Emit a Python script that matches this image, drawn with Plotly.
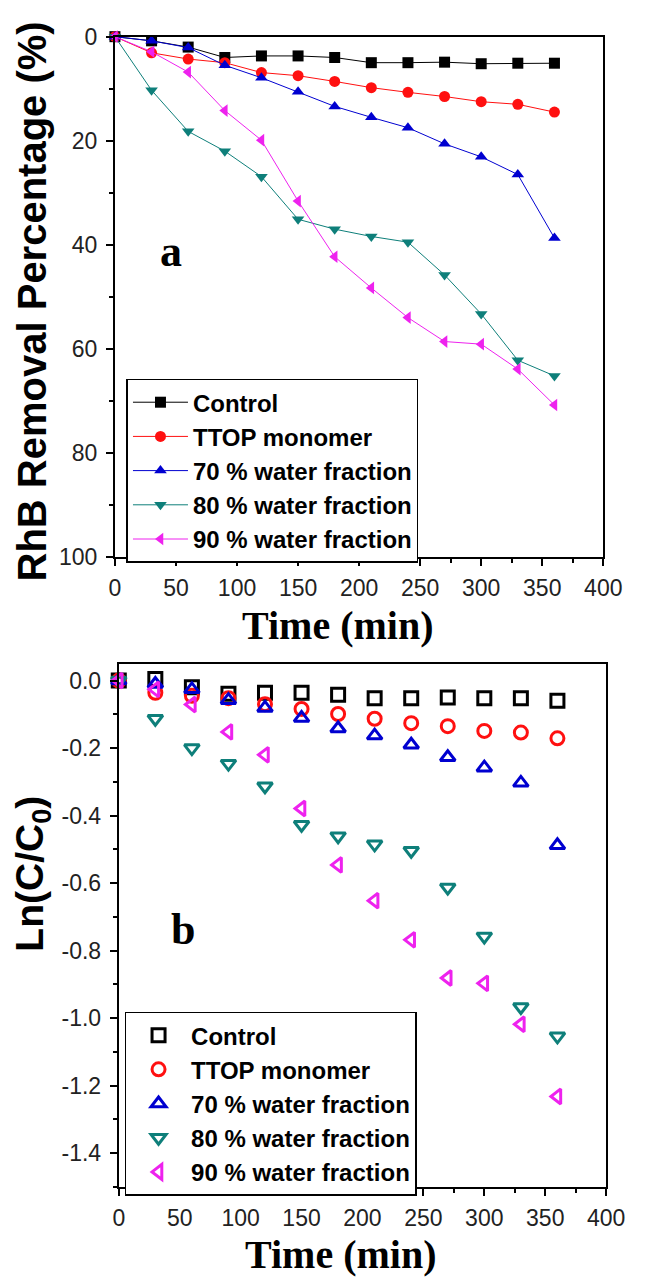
import plotly.graph_objects as go

time_min = [0, 30, 60, 90, 120, 150, 180, 210, 240, 270, 300, 330, 360]
series_names = ["Control", "TTOP monomer", "70 % water fraction",
                "80 % water fraction", "90 % water fraction"]
colors = ["#000000", "#ff1010", "#0000d0", "#0e7f7a", "#ee22ee"]

# Panel a: RhB removal percentage (%)
removal_control = [0, 0.8, 2.0, 4.0, 3.7, 3.7, 4.0, 5.0, 5.0, 4.9, 5.2, 5.1, 5.1]
removal_ttop = [0, 3.1, 4.3, 5.0, 6.9, 7.5, 8.6, 9.8, 10.7, 11.5, 12.5, 13.0, 14.5]
removal_70 = [0, 0.8, 2.1, 5.5, 7.9, 10.6, 13.4, 15.5, 17.5, 20.6, 23.1, 26.5, 38.7]
removal_80 = [0, 10.3, 18.2, 22.0, 26.9, 35.1, 37.0, 38.4, 39.5, 45.8, 53.3, 62.2, 65.2]
removal_90 = [0, 2.9, 6.8, 14.2, 19.9, 31.6, 42.3, 48.3, 54.0, 58.6, 59.1, 63.9, 70.8]

# Panel b: Ln(C/C0)
ln_control = [0, 0.005, -0.02, -0.039, -0.036, -0.036, -0.042, -0.052, -0.052, -0.050, -0.052, -0.052, -0.060]
ln_ttop = [0, -0.036, -0.045, -0.052, -0.070, -0.084, -0.099, -0.113, -0.126, -0.135, -0.149, -0.154, -0.171]
ln_70 = [0, -0.010, -0.026, -0.058, -0.081, -0.111, -0.142, -0.163, -0.190, -0.227, -0.258, -0.303, -0.488]
ln_80 = [0, -0.113, -0.200, -0.246, -0.313, -0.427, -0.461, -0.485, -0.504, -0.613, -0.758, -0.967, -1.054]
ln_90 = [0, -0.026, -0.071, -0.152, -0.220, -0.379, -0.546, -0.652, -0.768, -0.881, -0.897, -1.018, -1.232]

x_ticks = [0, 50, 100, 150, 200, 250, 300, 350, 400]
ya_ticks = [0, 20, 40, 60, 80, 100]
yb_ticks = [0.0, -0.2, -0.4, -0.6, -0.8, -1.0, -1.2, -1.4]

removal = [removal_control, removal_ttop, removal_70, removal_80, removal_90]
lnvals = [ln_control, ln_ttop, ln_70, ln_80, ln_90]
sym_a = ["square", "circle", "triangle-up", "triangle-down", "triangle-left"]
sym_b = ["square-open", "circle-open", "triangle-up-open", "triangle-down-open", "triangle-left-open"]

W, H = 646, 1284
OFF = 8  # default body margin of the page written by write_html
SANS = "Liberation Sans, Arial, sans-serif"
SERIF = "Liberation Serif, Times New Roman, serif"

fig = go.Figure()
for i, name in enumerate(series_names):
    fig.add_trace(go.Scatter(
        x=time_min, y=removal[i], name=name, mode="lines+markers",
        line=dict(color=colors[i], width=1),
        marker=dict(symbol=sym_a[i], size=11, color=colors[i]),
        xaxis="x", yaxis="y", legend="legend", cliponaxis=False))
for i, name in enumerate(series_names):
    fig.add_trace(go.Scatter(
        x=time_min, y=lnvals[i], name=name, mode="markers",
        marker=dict(symbol=sym_b[i], size=13, color=colors[i],
                    line=dict(color=colors[i], width=3)),
        xaxis="x2", yaxis="y2", legend="legend2", cliponaxis=False))


def px_x(p):
    return (p - OFF) / W


def px_y(p):
    return 1 - (p - OFF) / H


axis_common = dict(showline=True, linecolor="black", linewidth=2, mirror=True,
                   ticks="outside", ticklen=7, tickwidth=2, tickcolor="black",
                   showgrid=False, zeroline=False,
                   tickfont=dict(family=SANS, size=23, color="#222"))

fig.update_layout(
    width=W, height=H, margin=dict(l=0, r=0, t=0, b=0),
    paper_bgcolor="white", plot_bgcolor="white",
    xaxis=dict(domain=[px_x(113), px_x(621)], range=[0, 400], anchor="y",
               tickvals=x_ticks, ticklabelstandoff=2,
               minor=dict(ticks="outside", ticklen=4, tickwidth=2, dtick=25, tick0=0,
                          tickcolor="black"),
               **axis_common),
    yaxis=dict(domain=[px_y(555), px_y(24)], range=[100, 0], anchor="x",
               tickvals=ya_ticks, ticklabelstandoff=4,
               minor=dict(ticks="outside", ticklen=4, tickwidth=2, dtick=10, tick0=0,
                          tickcolor="black"),
               **axis_common),
    xaxis2=dict(domain=[px_x(117), px_x(624)], range=[0, 400], anchor="y2",
                tickvals=x_ticks, ticklabelstandoff=2,
                minor=dict(ticks="outside", ticklen=4, tickwidth=2, dtick=25, tick0=0,
                           tickcolor="black"),
                **axis_common),
    yaxis2=dict(domain=[px_y(1198), px_y(664)], range=[-1.5, 0.05], anchor="x2",
                tickvals=yb_ticks, ticktext=[f"{v:.1f}" for v in yb_ticks],
                ticklabelstandoff=4,
                minor=dict(ticks="outside", ticklen=4, tickwidth=2, dtick=0.1, tick0=0,
                           tickcolor="black"),
                **axis_common),
    legend=dict(x=px_x(125), y=px_y(373), xanchor="left", yanchor="top",
                bordercolor="black", borderwidth=1.5, bgcolor="white",
                font=dict(family=SANS, size=24, color="black", weight="bold"),
                itemwidth=55, tracegroupgap=0),
    legend2=dict(x=px_x(123), y=px_y(1019), xanchor="left", yanchor="top",
                 bordercolor="black", borderwidth=1.5, bgcolor="white",
                 font=dict(family=SANS, size=24, color="black", weight="bold"),
                 itemwidth=55, tracegroupgap=0),
    showlegend=True,
)

annotations = [
    dict(text="RhB Removal Percentage (%)", x=px_x(27), y=px_y(294), textangle=-90,
         font=dict(family=SANS, size=40, color="black", weight="bold")),
    dict(text="Ln(C/C<sub>0</sub>)", x=px_x(27), y=px_y(878), textangle=-90,
         font=dict(family=SANS, size=39, color="black", weight="bold")),
    dict(text="Time (min)", x=px_x(345), y=px_y(625),
         font=dict(family=SERIF, size=40, color="black", weight="bold")),
    dict(text="Time (min)", x=px_x(348), y=px_y(1267),
         font=dict(family=SERIF, size=40, color="black", weight="bold")),
    dict(text="a", x=px_x(171), y=px_y(243),
         font=dict(family=SERIF, size=44, color="black", weight="bold")),
    dict(text="b", x=px_x(184), y=px_y(935),
         font=dict(family=SERIF, size=44, color="black", weight="bold")),
]
for a in annotations:
    a.update(xref="paper", yref="paper", showarrow=False, xanchor="center", yanchor="middle")
fig.update_layout(annotations=annotations)

fig.write_html("out.html")
